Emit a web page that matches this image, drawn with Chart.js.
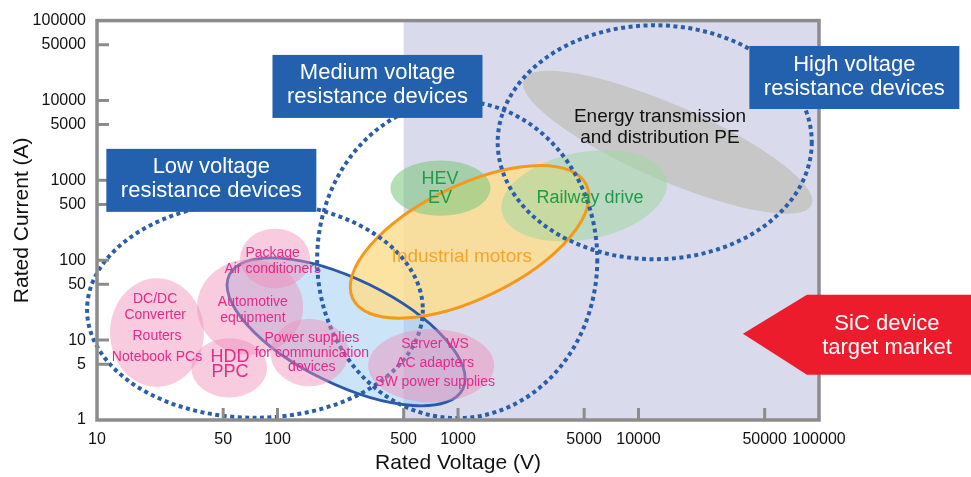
<!DOCTYPE html>
<html>
<head>
<meta charset="utf-8">
<script src="https://cdn.jsdelivr.net/npm/chart.js@4.4.0/dist/chart.umd.min.js"></script>
<style>
  html, body { margin: 0; background: #fff; }
</style>
</head>
<body>
<canvas id="chart" width="971" height="477"></canvas>
<script>
// axis ticks
const xTicks = [10, 50, 100, 500, 1000, 5000, 10000, 50000, 100000];
const yTicks = [1, 5, 10, 50, 100, 500, 1000, 5000, 10000, 50000, 100000];
const sicFromVoltage = 500; // shaded SiC target band starts here

// application regions (ellipses): centre in V / A, half size in decades, tilt in degrees
const regionNames = [
    "Energy transmission and distribution PE", "Si device zone", "Industrial motors",
    "Railway drive", "HEV/EV", "Low voltage resistance devices",
    "Medium voltage resistance devices", "High voltage resistance devices",
    "DC/DC converter, routers, notebook PCs", "HDD, PPC", "Automotive equipment",
    "Package air conditioners", "Power supplies for communication devices",
    "Server WS, AC adapters, SW power supplies"
];
const regionVoltage = [14500, 240, 1160, 5000, 800, 75, 990, 12300, 21.5, 54, 70.5, 97, 150, 710];
const regionCurrent = [3000, 12.7, 170, 640, 800, 24, 102, 3000, 12.4, 4.5, 26, 105, 7, 4.8];
const regionHalfV = [0.87, 0.72, 0.72, 0.465, 0.277, 0.93, 0.776, 0.87, 0.26, 0.21, 0.294, 0.194, 0.216, 0.349];
const regionHalfA = [0.47, 0.658, 0.707, 0.546, 0.347, 1.352, 1.985, 1.464, 0.68, 0.37, 0.596, 0.372, 0.422, 0.459];
const regionTilt = [23.5, 26, -26, -11, 0, 0, 0, 0, 0, 0, 0, 0, 0, 0];
const regionKind = ["grey", "blue", "orange", "green", "hev", "dotted", "dotted", "dotted",
    "pink", "pink", "pink", "pink", "pink", "pink"];

// text inside the regions
const labelText = ["DC/DC", "Converter", "Routers", "Notebook PCs", "HDD", "PPC",
    "Automotive", "equipment", "Package", "Air conditioners",
    "Power supplies", "for communication", "devices",
    "Server WS", "AC adapters", "SW power supplies",
    "Industrial motors", "HEV", "EV", "Railway drive",
    "Energy transmission", "and distribution PE"];
const labelVoltage = [21, 21, 21.5, 21.5, 54.6, 54.6, 73, 73, 94, 94, 155, 155, 155,
    746, 746, 746, 1050, 794, 794, 5380, 13150, 13150];
const labelCurrent = [32.6, 20.7, 11.3, 6.05, 6.22, 3.94, 29.9, 19, 121, 77, 10.7, 6.8, 4.55,
    8.8, 5.1, 2.96, 111, 1035, 601, 601, 6260, 3440];
const labelKind = ["pink", "pink", "pink", "pink", "pinkBig", "pinkBig", "pink", "pink", "pink", "pink",
    "pink", "pink", "pink", "pink", "pink", "pink", "orange", "green", "green", "green", "black", "black"];

// blue callout boxes, centre in V / A
const calloutText = [["Low voltage", "resistance devices"], ["Medium voltage", "resistance devices"],
    ["High voltage", "resistance devices"]];
const calloutVoltage = [43, 358, 157000];
const calloutCurrent = [1000, 15000, 19400];

// red arrow, tip in V / A
const targetText = ["SiC device", "target market"];
const targetVoltage = 37900;
const targetCurrent = 12;

const FONT = "'Liberation Sans', Arial, Helvetica, sans-serif";

const kindStyle = {
    grey:   { layer: 1, fill: "rgba(196,196,196,0.9)" },
    blue:   { layer: 1, fill: "rgba(160,205,240,0.55)", stroke: "#2a59a8", width: 2.8 },
    orange: { layer: 1, fill: "rgba(253,222,145,0.85)", stroke: "#f39a1e", width: 3 },
    green:  { layer: 1, fill: "rgba(160,215,160,0.55)" },
    hev:    { layer: 1, fill: "rgba(130,200,130,0.6)" },
    dotted: { layer: 2, stroke: "#2a5ea9", width: 4, dash: [4, 3.5] },
    pink:   { layer: 3, fill: "rgba(240,140,185,0.45)" }
};
const textStyle = {
    pink:    { color: "#e52a8a", size: 14 },
    pinkBig: { color: "#e52a8a", size: 18 },
    orange:  { color: "#f5a52c", size: 19 },
    green:   { color: "#1e9c48", size: 18 },
    black:   { color: "#111111", size: 19 }
};

function ellipsePath(ctx, chart, i) {
    const xs = chart.scales.x, ys = chart.scales.y;
    const cx = xs.getPixelForValue(regionVoltage[i]);
    const cy = ys.getPixelForValue(regionCurrent[i]);
    const decX = xs.getPixelForValue(100) - xs.getPixelForValue(10);
    const decY = ys.getPixelForValue(1) - ys.getPixelForValue(10);
    ctx.beginPath();
    ctx.ellipse(cx, cy, regionHalfV[i] * decX, regionHalfA[i] * decY, regionTilt[i] * Math.PI / 180, 0, Math.PI * 2);
}

const regionsPlugin = {
    id: "regions",
    afterDraw(chart) {
        const ctx = chart.ctx;
        const { left, right, top, bottom } = chart.chartArea;
        const xs = chart.scales.x, ys = chart.scales.y;
        ctx.save();

        // SiC band
        const bandX = xs.getPixelForValue(sicFromVoltage);
        ctx.fillStyle = "#d9daeb";
        ctx.fillRect(bandX, top, right - bandX, bottom - top);

        // fills, then outlines
        for (let i = 0; i < regionNames.length; i++) {
            const st = kindStyle[regionKind[i]];
            if (st.layer === 1 && st.fill) {
                ellipsePath(ctx, chart, i);
                ctx.fillStyle = st.fill;
                ctx.fill();
            }
        }
        for (let i = 0; i < regionNames.length; i++) {
            const st = kindStyle[regionKind[i]];
            if (!st.stroke) continue;
            ellipsePath(ctx, chart, i);
            ctx.strokeStyle = st.stroke;
            ctx.lineWidth = st.width;
            ctx.setLineDash(st.dash || []);
            ctx.stroke();
        }
        ctx.setLineDash([]);
        for (let i = 0; i < regionNames.length; i++) {
            const st = kindStyle[regionKind[i]];
            if (st.layer === 3) {
                ellipsePath(ctx, chart, i);
                ctx.fillStyle = st.fill;
                ctx.fill();
            }
        }

        // region labels
        ctx.textAlign = "center";
        ctx.textBaseline = "middle";
        labelText.forEach((t, i) => {
            const st = textStyle[labelKind[i]];
            ctx.fillStyle = st.color;
            ctx.font = st.size + "px " + FONT;
            ctx.fillText(t, xs.getPixelForValue(labelVoltage[i]), ys.getPixelForValue(labelCurrent[i]));
        });

        // frame and inner ticks
        ctx.strokeStyle = "#8c8c8c";
        ctx.lineWidth = 3.5;
        ctx.strokeRect(left, top, right - left, bottom - top);
        ctx.lineWidth = 3;
        ctx.beginPath();
        xTicks.slice(1, -1).forEach(v => {
            const x = xs.getPixelForValue(v);
            ctx.moveTo(x, bottom);
            ctx.lineTo(x, bottom - 12);
        });
        yTicks.slice(1, -1).forEach(v => {
            const y = ys.getPixelForValue(v);
            ctx.moveTo(left, y);
            ctx.lineTo(left + 12, y);
        });
        ctx.stroke();

        // callout boxes
        ctx.font = "22px " + FONT;
        calloutText.forEach((lines, i) => {
            const cx = xs.getPixelForValue(calloutVoltage[i]);
            const cy = ys.getPixelForValue(calloutCurrent[i]);
            ctx.fillStyle = "#2360ae";
            ctx.fillRect(cx - 105, cy - 31.5, 210, 63);
            ctx.fillStyle = "#ffffff";
            ctx.fillText(lines[0], cx, cy - 13);
            ctx.fillText(lines[1], cx, cy + 11);
        });

        // red target arrow
        const tx = xs.getPixelForValue(targetVoltage);
        const ty = ys.getPixelForValue(targetCurrent);
        ctx.fillStyle = "#ec1c2c";
        ctx.beginPath();
        ctx.moveTo(tx, ty);
        ctx.lineTo(tx + 64, ty - 39);
        ctx.lineTo(chart.width, ty - 39);
        ctx.lineTo(chart.width, ty + 41);
        ctx.lineTo(tx + 64, ty + 41);
        ctx.closePath();
        ctx.fill();
        ctx.fillStyle = "#ffffff";
        ctx.fillText(targetText[0], tx + 144, ty - 10);
        ctx.fillText(targetText[1], tx + 144, ty + 14);

        ctx.restore();
    }
};

Chart.defaults.font.family = FONT;

new Chart(document.getElementById("chart").getContext("2d"), {
    type: "scatter",
    data: { datasets: [] },
    options: {
        responsive: false,
        animation: false,
        layout: { padding: { left: 0, right: 152, top: 17, bottom: 0 } },
        plugins: { legend: { display: false }, tooltip: { enabled: false } },
        scales: {
            x: {
                type: "logarithmic",
                min: 10,
                max: 100000,
                grid: { display: false, drawTicks: false },
                border: { display: false },
                ticks: { autoSkip: false, maxRotation: 0, padding: 10, color: "#111", font: { size: 16 },
                    callback: v => String(v) },
                afterBuildTicks: s => { s.ticks = xTicks.map(v => ({ value: v })); },
                afterFit: s => { s.height = 57; },
                title: { display: true, text: "Rated Voltage (V)", color: "#111", font: { size: 21 },
                    padding: { top: 0, bottom: 1 } }
            },
            y: {
                type: "logarithmic",
                min: 1,
                max: 100000,
                grid: { display: false, drawTicks: false },
                border: { display: false },
                ticks: { autoSkip: false, padding: 11, color: "#111", font: { size: 16 },
                    callback: v => String(v) },
                afterBuildTicks: s => { s.ticks = yTicks.map(v => ({ value: v })); },
                afterFit: s => { s.width = 97; },
                title: { display: true, text: "Rated Current (A)", color: "#111", font: { size: 21 },
                    padding: { top: 10, bottom: 0 } }
            }
        }
    },
    plugins: [regionsPlugin]
});
</script>
</body>
</html>
